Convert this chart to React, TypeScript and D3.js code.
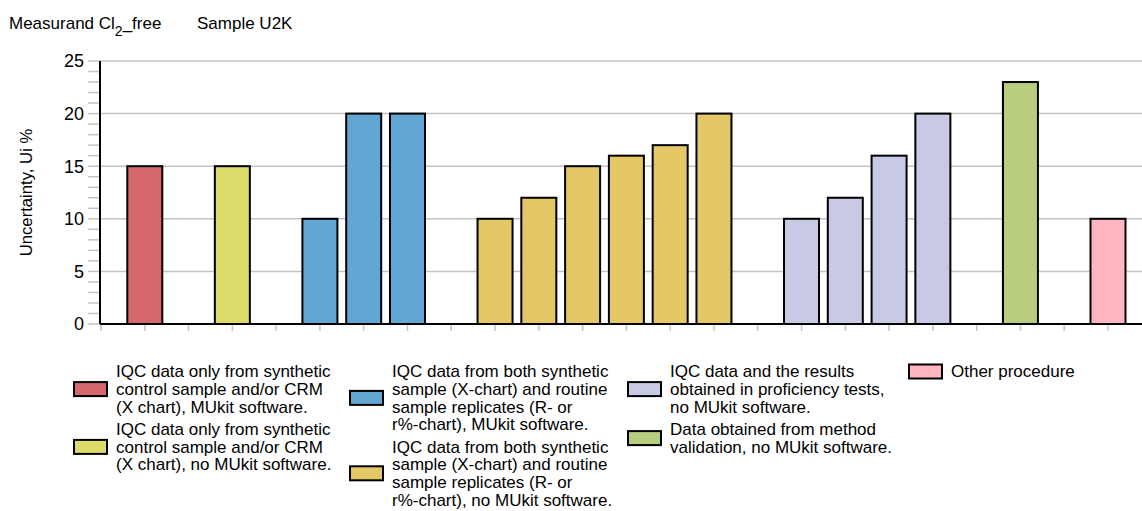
import React from "react";
import * as d3 from "d3";

const W = 1142;
const H = 511;

const slotIndex = d3.range(24);
const barValues: (number | null)[] = [null, 15, null, 15, null, 10, 20, 20, null, 10, 12, 15, 16, 17, 20, null, 10, 12, 16, 20, null, 23, null, 10];
const barGroup: (number | null)[] = [null, 0, null, 1, null, 2, 2, 2, null, 3, 3, 3, 3, 3, 3, null, 4, 4, 4, 4, null, 5, null, 6];
const groupColors = ["#d6676e", "#dcdb69", "#62a7d3", "#e4c868", "#c8c9e5", "#b8cd80", "#ffb6c1"];
const groupLabels: string[][] = [
  ["IQC data only from synthetic", "control sample and/or CRM", "(X chart), MUkit software."],
  ["IQC data only from synthetic", "control sample and/or CRM", "(X chart), no MUkit software."],
  ["IQC data from both synthetic", "sample (X-chart) and routine", "sample replicates (R- or", "r%-chart), MUkit software."],
  ["IQC data from both synthetic", "sample (X-chart) and routine", "sample replicates (R- or", "r%-chart), no MUkit software."],
  ["IQC data and the results", "obtained in proficiency tests,", "no MUkit software."],
  ["Data obtained from method", "validation, no MUkit software."],
  ["Other procedure"],
];
const legendColumns: number[][] = [[0, 1], [2, 3], [4, 5], [6]];
const yTicks = [0, 5, 10, 15, 20, 25];
const yMinor = d3.range(0, 26);

const FONT = "Arial, 'Liberation Sans', sans-serif";

export default function App() {
  const x = d3.scalePoint<number>().domain(slotIndex).range([101, 1108]);
  const y = d3.scaleLinear().domain([0, 25]).range([324, 61]);
  const bw = 35;
  const axisLeft = 100;
  const axisRight = W;

  const colX = [74, 350, 628, 909];
  const lineH = 17.6;
  const top = 371.5;
  const itemGap = 5;
  const lf = 17;

  return (
    <svg width={W} height={H} style={{ position: "absolute", left: 0, top: 0, fontFamily: FONT }}>
      <rect width={W} height={H} fill="#fff" />
      {/* title */}
      <text x={9} y={29} fontSize={17} fill="#000">
        Measurand Cl
        <tspan fontSize={14} dy={7}>2</tspan>
        <tspan dy={-7}>_free</tspan>
      </text>
      <text x={197} y={29} fontSize={17} fill="#000">Sample U2K</text>

      {/* grid */}
      {yTicks.filter((t) => t > 0).map((t) => (
        <line key={"g" + t} x1={axisLeft} x2={axisRight} y1={y(t)} y2={y(t)} stroke="#c4c4c4" strokeWidth={1.5} />
      ))}
      {/* minor ticks */}
      {yMinor.map((t) => (
        <line key={"m" + t} x1={88} x2={axisLeft} y1={y(t)} y2={y(t)} stroke="#c4c4c4" strokeWidth={1.5} />
      ))}
      {yTicks.map((t) => (
        <text key={"l" + t} x={84} y={y(t)} dy="0.35em" textAnchor="end" fontSize={18} fill="#000">{t}</text>
      ))}
      <text transform={`translate(32,${(y(0) + y(25)) / 2}) rotate(-90)`} textAnchor="middle" fontSize={16.7} fill="#000">
        Uncertainty, Ui %
      </text>

      {/* x ticks */}
      {slotIndex.map((i) => (
        <line key={"xt" + i} x1={x(i)!} x2={x(i)!} y1={325} y2={331} stroke="#c4c4c4" strokeWidth={1.5} />
      ))}

      {/* bars */}
      {slotIndex.map((i) => {
        const v = barValues[i];
        const g = barGroup[i];
        if (v == null || g == null) return null;
        return (
          <rect key={"b" + i} x={x(i)! - bw / 2} y={y(v)} width={bw} height={y(0) - y(v)} fill={groupColors[g]} stroke="#000" strokeWidth={2} />
        );
      })}

      {/* axes */}
      <line x1={axisLeft} x2={axisLeft} y1={y(25)} y2={y(0)} stroke="#000" strokeWidth={2} />
      <line x1={axisLeft} x2={axisRight} y1={y(0)} y2={y(0)} stroke="#000" strokeWidth={2} />

      {/* legend */}
      {legendColumns.map((col, ci) => {
        let cy = top;
        return col.map((g) => {
          const lines = groupLabels[g];
          const startY = cy;
          const center = startY + ((lines.length - 1) * lineH) / 2;
          cy = startY + lines.length * lineH + itemGap;
          return (
            <g key={"lg" + g}>
              <rect x={colX[ci]} y={center - 7} width={33} height={14} fill={groupColors[g]} stroke="#000" strokeWidth={2} />
              {lines.map((ln, li) => (
                <text key={li} x={colX[ci] + 42} y={startY + li * lineH} dy="0.35em" fontSize={lf} fill="#000">{ln}</text>
              ))}
            </g>
          );
        });
      })}
    </svg>
  );
}
